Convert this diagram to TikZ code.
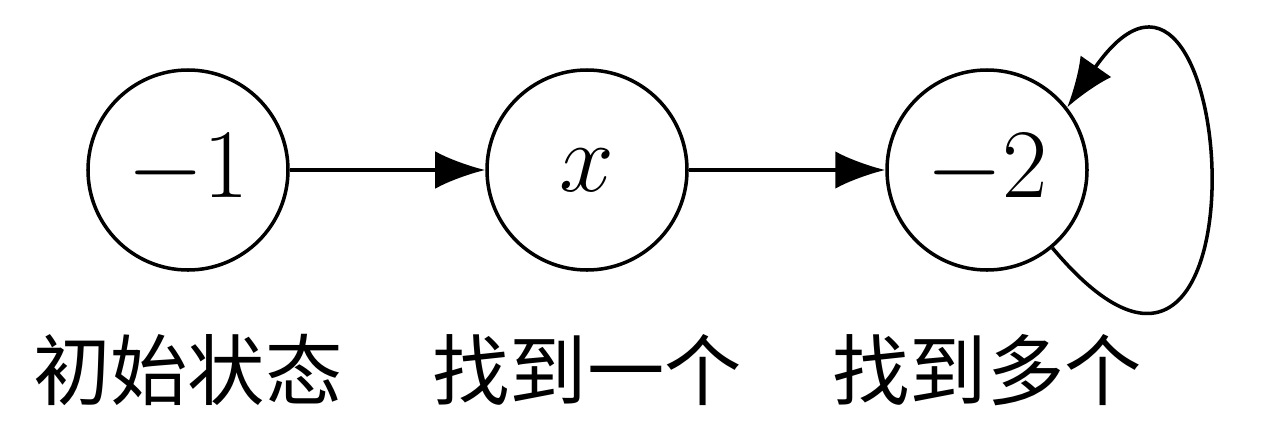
\documentclass[tikz,border=0pt]{standalone}
\usepackage{fix-cm}
\usepackage{fontspec}
\newfontfamily\cjk{Noto Sans CJK SC}
\usetikzlibrary{arrows.meta}
\tikzset{
  state/.style={draw,circle,line width=2pt,minimum size=4cm,inner sep=0pt,font=\fontsize{56}{60}\selectfont},
  lbl/.style={font=\cjk\fontsize{44}{50}\selectfont},
  edge/.style={line width=2pt,-{Latex[length=1cm,width=0.75cm]}}
}
\begin{document}
\begin{tikzpicture}
  \useasboundingbox (0,0) rectangle (25.32,8.82);
  % states
  \node[state] (init) at (3.76,5.42) {$-1$};
  \node[state] (one) at (11.74,5.42) {$x$};
  \node[state] (many) at (19.74,5.42) {$-2$};
  % labels
  \node[lbl] (linit) at (3.76,1.42) {初始状态};
  \node[lbl] (lone) at (11.74,1.42) {找到一个};
  \node[lbl] (lmany) at (19.74,1.42) {找到多个};
  % transitions
  \draw[edge] (init) -- (one);
  \draw[edge] (one) -- (many);
  \draw[edge] (many.-50) .. controls +(-50:7) and +(55:6) .. (many.38);
\end{tikzpicture}
\end{document}
